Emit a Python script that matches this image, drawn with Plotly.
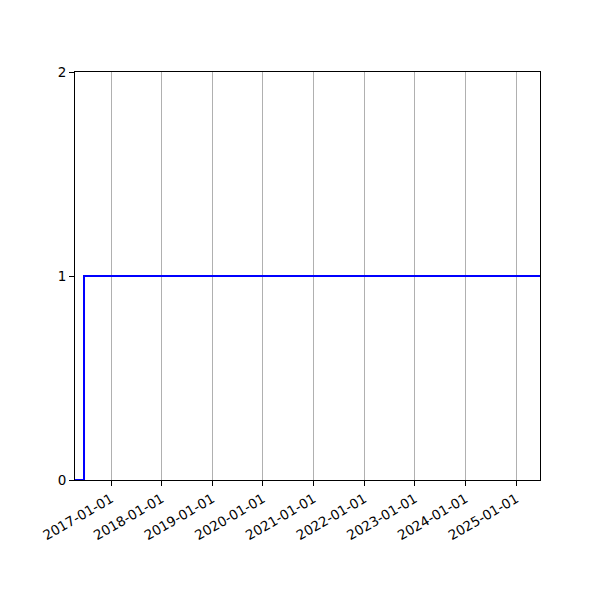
import plotly.graph_objects as go

dates = ["2016-04-16", "2016-06-20", "2025-06-21"]
values = [0, 1, 1]
tick_dates = ["2017-01-01", "2018-01-01", "2019-01-01", "2020-01-01", "2021-01-01",
              "2022-01-01", "2023-01-01", "2024-01-01", "2025-01-01"]
y_ticks = [0, 1, 2]

fig = go.Figure()
fig.add_trace(go.Scatter(x=dates, y=values, mode="lines", line=dict(shape="hv", color="#0000ff", width=2),
                         showlegend=False, cliponaxis=False))

fig.update_layout(
    width=600, height=600,
    margin=dict(l=67, r=68, t=64, b=128),
    paper_bgcolor="white", plot_bgcolor="white",
    font=dict(family="DejaVu Sans", size=13.5, color="black"),
)
fig.update_xaxes(
    type="date", range=[dates[0], dates[-1]],
    tickvals=tick_dates, ticktext=tick_dates, tickangle=-30,
    showgrid=True, gridcolor="#b0b0b0", gridwidth=1,
    showline=True, linecolor="black", linewidth=1, mirror=True,
    ticks="outside", ticklen=5, tickcolor="black", zeroline=False,
)
fig.update_yaxes(
    range=[0, 2], tickvals=y_ticks, showgrid=False,
    showline=True, linecolor="black", linewidth=1, mirror=True,
    ticks="outside", ticklen=5, tickcolor="black", zeroline=False,
)
fig.write_html("out.html")
